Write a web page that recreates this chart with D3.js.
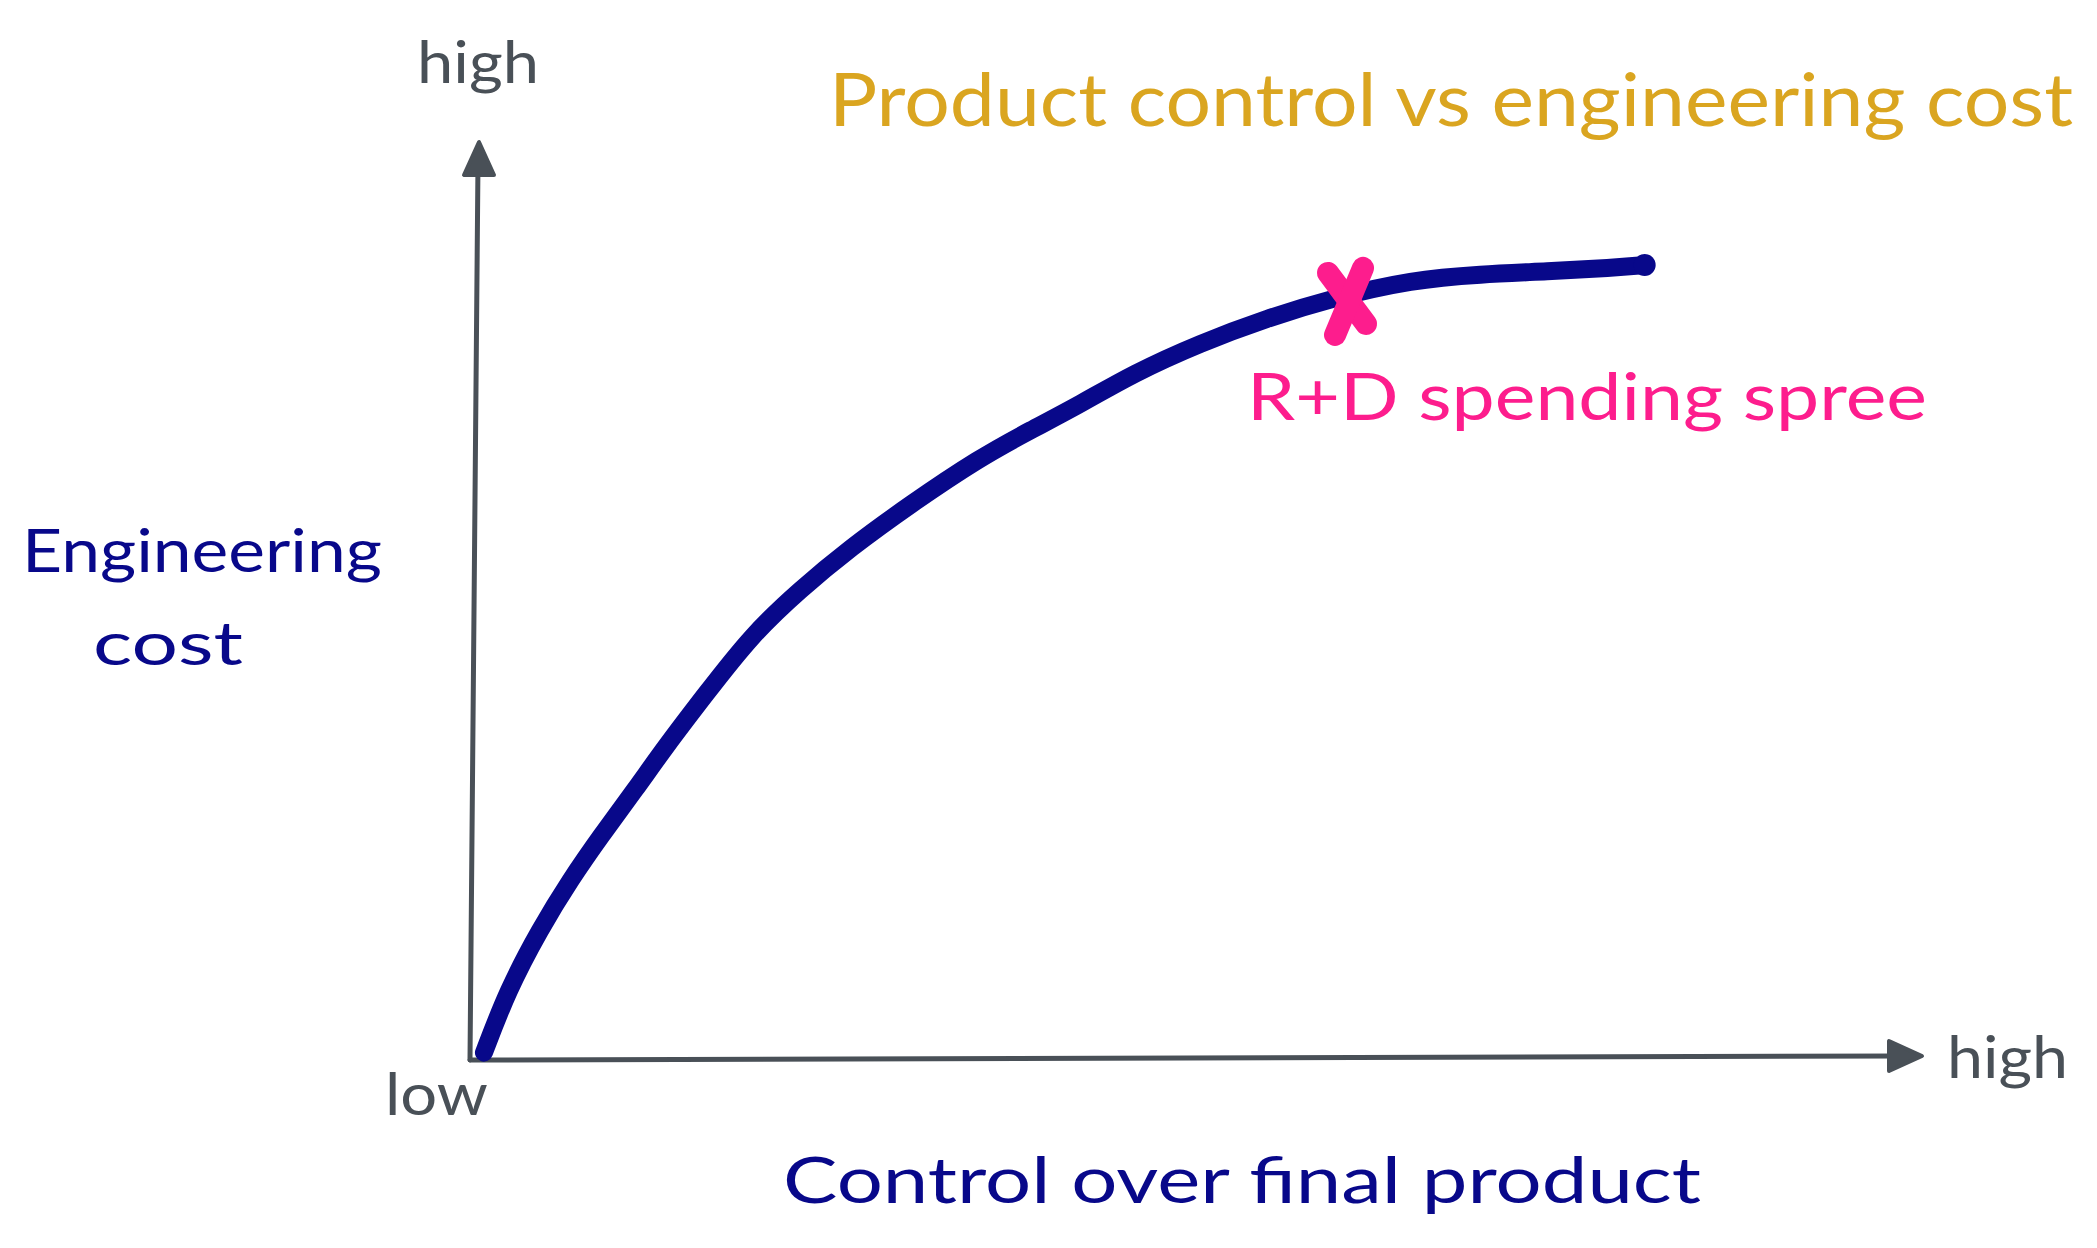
<!DOCTYPE html>
<html>
<head>
<meta charset="utf-8">
<script src="https://cdnjs.cloudflare.com/ajax/libs/d3/7.8.5/d3.min.js"></script>
<style>
  body { margin: 0; background: #fff; }
  svg { display: block; }
  text { font-family: Lato, "Noto Sans", sans-serif; }
</style>
</head>
<body>
<div id="chart"></div>
<script>
// curve: control over final product (x) vs engineering cost (y), both 0..100
var controlValues = [0.96, 2.6, 4.8, 6.9, 9.1, 11.4, 13.4, 16.2, 19.4, 22.7, 26.2, 30.3, 35.1, 38.6, 42.0, 45.7, 50.3, 54.9, 59.4, 64.9, 69.6, 74.2, 78.7, 80.9];
var costValues = [0.8, 7.6, 14.2, 19.6, 24.6, 29.5, 34.0, 39.8, 46.3, 51.2, 55.8, 60.5, 65.6, 68.6, 71.4, 74.8, 78.1, 80.8, 83.0, 85.0, 85.6, 85.9, 86.3, 86.6];

// the "x" marker on the curve
var markerPoint = [60.4, 82.8];
var markerLabel = "R+D spending spree";

var axisEnds = ["low", "high"];
var xTitle = "Control over final product";
var yTitle = ["Engineering", "cost"];
var chartTitle = "Product control vs engineering cost";

var gray = "#495057";
var navy = "#08088a";
var pink = "#fd1d8d";
var gold = "#daa520";

var width = 2097, height = 1248;

var x = d3.scaleLinear().domain([0, 100]).range([470, 1922]);
var y = d3.scaleLinear().domain([0, 100]).range([1060, 142]);

var svg = d3.select("#chart").append("svg")
  .attr("width", width)
  .attr("height", height);

svg.append("rect")
  .attr("width", width)
  .attr("height", height)
  .attr("fill", "#fff");

// axes, hand drawn look: slight lean on both lines
var lean = 8;
svg.append("line")
  .attr("x1", x(0)).attr("y1", y(0))
  .attr("x2", x(0) + lean).attr("y2", y(100) + 20)
  .attr("stroke", gray).attr("stroke-width", 5)
  .attr("stroke-linecap", "round");
svg.append("line")
  .attr("x1", x(0)).attr("y1", y(0))
  .attr("x2", x(100) - 20).attr("y2", y(0) - 4)
  .attr("stroke", gray).attr("stroke-width", 5)
  .attr("stroke-linecap", "round");

// arrow heads
function arrowHead(tipX, tipY, dir) {
  var len = 33, half = 15;
  var pts;
  if (dir == "up") {
    pts = [[tipX, tipY], [tipX - half, tipY + len], [tipX + half, tipY + len]];
  } else {
    pts = [[tipX, tipY], [tipX - len, tipY - half], [tipX - len, tipY + half]];
  }
  svg.append("path")
    .attr("d", d3.line()(pts) + "Z")
    .attr("fill", gray)
    .attr("stroke", gray)
    .attr("stroke-width", 4)
    .attr("stroke-linejoin", "round");
}
arrowHead(x(0) + lean + 1, y(100), "up");
arrowHead(x(100), y(0) - 4, "right");

// the curve
var points = controlValues.map(function(d, i) { return [d, costValues[i]]; });
var line = d3.line()
  .x(function(d) { return x(d[0]); })
  .y(function(d) { return y(d[1]); })
  .curve(d3.curveBasis);

svg.append("path")
  .datum(points)
  .attr("d", line)
  .attr("fill", "none")
  .attr("stroke", navy)
  .attr("stroke-width", 18)
  .attr("stroke-linecap", "round")
  .attr("stroke-linejoin", "round");

// end blob
var last = points[points.length - 1];
svg.append("circle")
  .attr("cx", x(last[0]))
  .attr("cy", y(last[1]))
  .attr("r", 11)
  .attr("fill", navy);

// marker "x"
var mx = x(markerPoint[0]), my = y(markerPoint[1]);
var cross = svg.append("g").attr("stroke", pink).attr("stroke-width", 22).attr("stroke-linecap", "round");
cross.append("line")
  .attr("x1", mx - 19).attr("y1", my - 27)
  .attr("x2", mx + 19).attr("y2", my + 24);
cross.append("line")
  .attr("x1", mx + 16).attr("y1", my - 32)
  .attr("x2", mx - 12).attr("y2", my + 35);

// text helper, textLength stretches the letters like the sketch font
function label(txt, px, py, size, color, len, anchor) {
  svg.append("text")
    .attr("x", px)
    .attr("y", py)
    .attr("font-size", size)
    .attr("fill", color)
    .attr("text-anchor", anchor || "start")
    .attr("textLength", len)
    .attr("lengthAdjust", "spacingAndGlyphs")
    .text(txt);
}

label(markerLabel, mx - 100, y(markerPoint[1]) + 120, 66, pink, 680);

// axis end labels
label(axisEnds[1], x(0) - 53, 83, 58, gray, 122);
label(axisEnds[0], x(0) - 85, y(0) + 55, 58, gray, 103);
label(axisEnds[1], x(100) + 25, y(0) + 18, 58, gray, 121);

// axis titles
label(yTitle[0], 22, 572, 60, navy, 360);
label(yTitle[1], 93, 665, 60, navy, 150);
label(xTitle, 783, 1203, 64, navy, 918);

// title
label(chartTitle, 829, 126, 74, gold, 1244);
</script>
</body>
</html>
